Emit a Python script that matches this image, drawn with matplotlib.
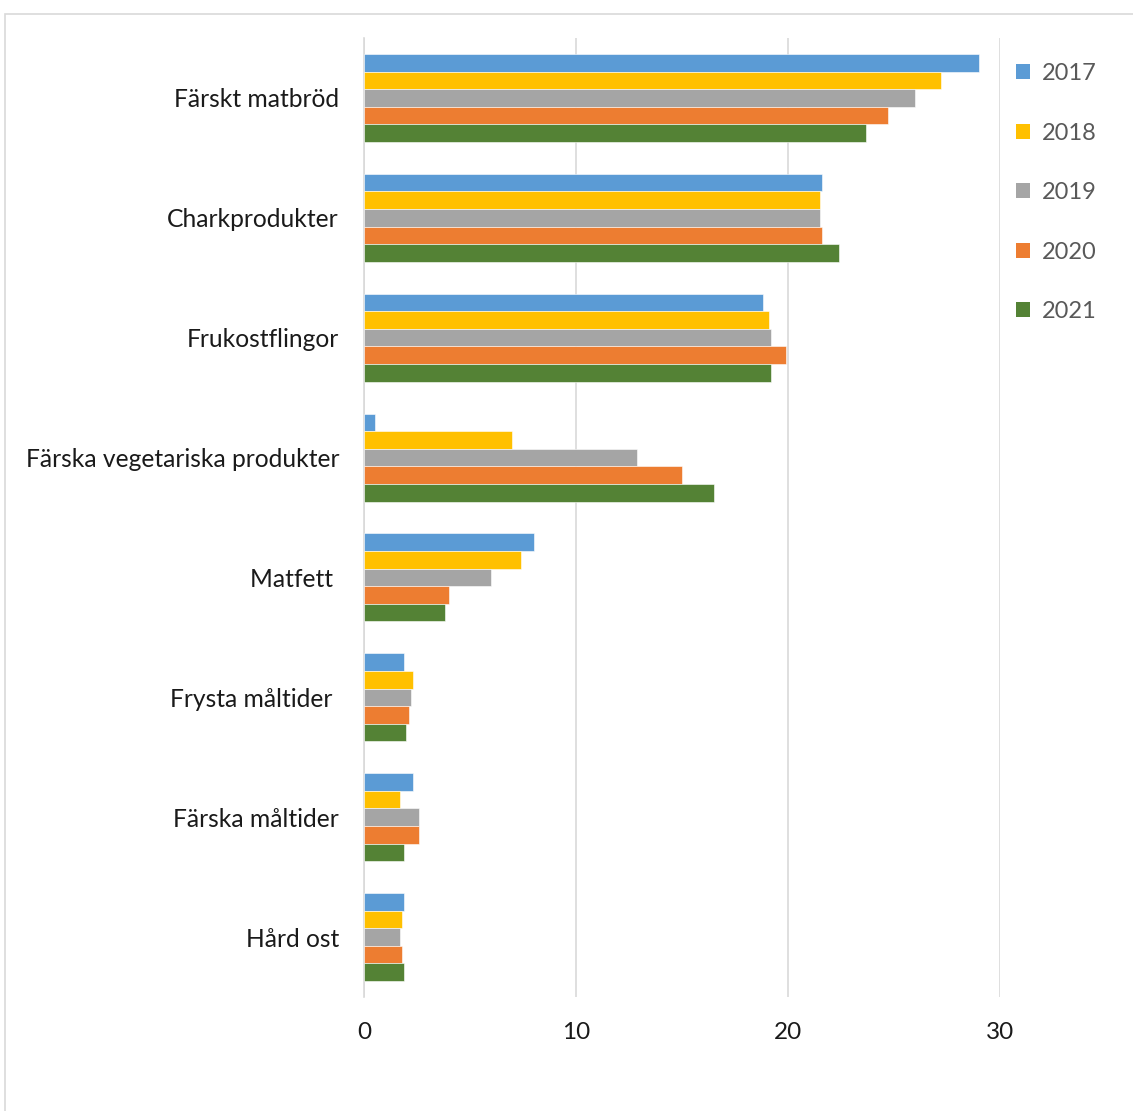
import matplotlib
matplotlib.use("Agg")
import matplotlib.pyplot as plt
import numpy as np
from matplotlib.patches import Rectangle, Patch

categories = ["Färskt matbröd", "Charkprodukter", "Frukostflingor",
              "Färska vegetariska produkter", "Matfett ", "Frysta måltider ",
              "Färska måltider", "Hård ost"]
years = ["2017", "2018", "2019", "2020", "2021"]
v2017 = [29.0, 21.6, 18.8, 0.5, 8.0, 1.9, 2.3, 1.9]
v2018 = [27.2, 21.5, 19.1, 7.0, 7.4, 2.3, 1.7, 1.8]
v2019 = [26.0, 21.5, 19.2, 12.9, 6.0, 2.2, 2.6, 1.7]
v2020 = [24.7, 21.6, 19.9, 15.0, 4.0, 2.1, 2.6, 1.8]
v2021 = [23.7, 22.4, 19.2, 16.5, 3.8, 2.0, 1.9, 1.9]
series = [v2017, v2018, v2019, v2020, v2021]
colors = ["#5B9BD5", "#FFC000", "#A5A5A5", "#ED7D31", "#548235"]

plt.rcParams["font.family"] = ["Lato", "DejaVu Sans"]

fig = plt.figure(figsize=(11.33, 11.11), dpi=100)
ax = fig.add_axes([364 / 1133, 1 - 997 / 1111, 636 / 1133, 959 / 1111])

# chart frame
fig.patches.append(Rectangle((5 / 1133, -0.1), 1.2, 1 - 14 / 1111 + 0.1,
                             transform=fig.transFigure, fill=False,
                             edgecolor="#D9D9D9", linewidth=1.2))

y = np.arange(len(categories))
h = 0.1467
for i, (vals, c) in enumerate(zip(series, colors)):
    ax.barh(y + (i - 2) * h, vals, h, color=c, edgecolor="white",
            linewidth=0.4, zorder=3)

ax.set_xlim(0, 30)
ax.set_ylim(len(categories) - 0.5, -0.5)
ax.set_xticks([0, 10, 20, 30])
ax.set_yticks(y)
ax.set_yticklabels(categories, fontsize=17.7, color="#1a1a1a")
ax.tick_params(axis="y", length=0, pad=18)
ax.tick_params(axis="x", length=0, pad=18, labelsize=17.5, labelcolor="#1a1a1a")
ax.grid(axis="x", color="#D9D9D9", linewidth=1.2, zorder=0)
for s in ["top", "right", "bottom"]:
    ax.spines[s].set_visible(False)
ax.spines["left"].set_color("#D9D9D9")
ax.spines["left"].set_linewidth(1.2)

handles = [Patch(facecolor=c, edgecolor="none") for c in colors]
leg = fig.legend(handles, years, loc="upper left",
                 bbox_to_anchor=(995 / 1133, 1 - 42 / 1111),
                 frameon=False, fontsize=17, labelspacing=1.63,
                 handlelength=0.6, handleheight=0.6, handletextpad=0.5)
for t in leg.get_texts():
    t.set_color("#595959")

fig.savefig("out.png", dpi=100, facecolor="white")
